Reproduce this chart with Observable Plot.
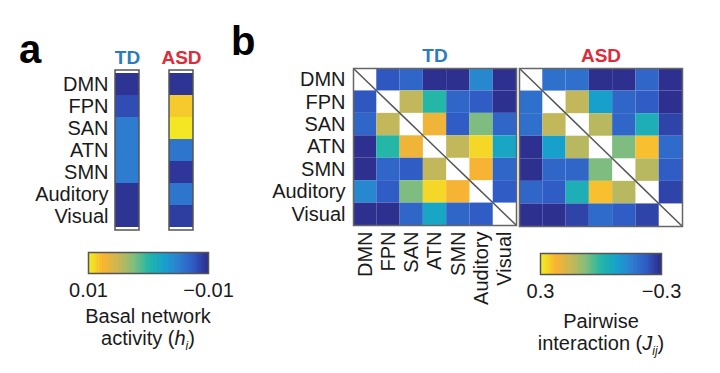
<!DOCTYPE html>
<html><head><meta charset="utf-8">
<script src="https://cdn.jsdelivr.net/npm/d3@7"></script>
<script src="https://cdn.jsdelivr.net/npm/@observablehq/plot@0.6"></script>
<style>
body{margin:0;background:#fff;}
#root{position:relative;width:720px;height:373px;overflow:hidden;font-family:"Liberation Sans",Arial,Helvetica,sans-serif;color:#1a1a1a;}
.abs{position:absolute;}
.panel{font-weight:bold;font-size:40px;line-height:40px;color:#000;}
.ttl{font-size:20px;line-height:22px;text-align:center;white-space:nowrap;}
</style></head><body><div id="root"></div>
<script>
// ---- data ----
const networks = ["DMN", "FPN", "SAN", "ATN", "SMN", "Auditory", "Visual"];
const groups = ["TD", "ASD"];
const tdColor = "#2b7bc0";
const asdColor = "#e02a3a";
// basal network activity h_i
const hTD  = [-0.0095, -0.0082, -0.0052, -0.0052, -0.0052, -0.0095, -0.0095];
const hASD = [-0.0095,  0.0084,  0.0096, -0.0056, -0.0093, -0.0056, -0.0090];
// pairwise interactions J_ij (diagonal empty)
const jTD = [
  [null, -0.23, -0.20, -0.29, -0.29, -0.13, -0.29],
  [-0.23, null,  0.14,  0.00, -0.20, -0.22, -0.29],
  [-0.20,  0.14, null,  0.21, -0.22,  0.07, -0.20],
  [-0.29,  0.00,  0.21, null,  0.14,  0.27, -0.06],
  [-0.29, -0.20, -0.22,  0.14, null,  0.22, -0.20],
  [-0.13, -0.22,  0.07,  0.27,  0.22, null, -0.22],
  [-0.29, -0.29, -0.20, -0.06, -0.20, -0.22, null]
];
const jASD = [
  [null, -0.18, -0.18, -0.29, -0.29, -0.20, -0.29],
  [-0.18, null,  0.14, -0.08, -0.20, -0.22, -0.29],
  [-0.18,  0.14, null,  0.13, -0.20, -0.03, -0.26],
  [-0.29, -0.08,  0.13, null,  0.07,  0.24, -0.19],
  [-0.29, -0.20, -0.20,  0.07, null,  0.13, -0.22],
  [-0.20, -0.22, -0.03,  0.24,  0.13, null, -0.26],
  [-0.29, -0.29, -0.26, -0.19, -0.22, -0.26, null]
];
const hTicks = [0.01, -0.01];
const jTicks = [0.3, -0.3];
const parulaStops = ["#2e2a88", "#2f5ac4", "#2e7fd0", "#16a2cc", "#24b6a6", "#84be7c", "#cbb656", "#f9b332", "#f2f020"];

// ---- helpers ----
const parula = d3.piecewise(d3.interpolateRgb, parulaStops);
const FONT = '"Liberation Sans", Arial, Helvetica, sans-serif';
const root = document.getElementById("root");
function place(node, left, top) {
  const d = document.createElement("div");
  d.className = "abs"; d.style.left = left + "px"; d.style.top = top + "px";
  d.appendChild(node); root.appendChild(d); return d;
}
function html(cls, left, top, inner, width) {
  const d = document.createElement("div");
  d.className = "abs " + cls; d.style.left = left + "px"; d.style.top = top + "px";
  if (width) d.style.width = width + "px";
  d.innerHTML = inner; root.appendChild(d); return d;
}
const baseStyle = {fontFamily: FONT, fontSize: "20px", color: "#1a1a1a", background: "none", overflow: "visible"};

// ---- panel a ----
const hData = networks.flatMap((n, i) => [
  {group: "TD", net: n, v: hTD[i]},
  {group: "ASD", net: n, v: hASD[i]}
]);
const plotA = Plot.plot({
  width: 240, height: 240,
  marginLeft: 115, marginRight: 47, marginTop: 70, marginBottom: 10,
  style: baseStyle,
  x: {domain: groups, paddingInner: 0.556, paddingOuter: 0, axis: null},
  y: {domain: networks, padding: 0, label: null, tickSize: 0, tickPadding: 7},
  color: {type: "linear", domain: [hTicks[1], hTicks[0]], interpolate: parula},
  marks: [
    Plot.cell(hData, {x: "group", y: "net", fill: "v"}),
    Plot.cell(groups, {x: d => d, fill: "none", stroke: "#555", strokeWidth: 1.5}),
    Plot.text(["TD"], {x: d => d, text: d => d, frameAnchor: "top", lineAnchor: "bottom", dy: -7, fill: tdColor, fontWeight: "bold", fontSize: 19}),
    Plot.text(["ASD"], {x: d => d, text: d => d, frameAnchor: "top", lineAnchor: "bottom", dy: -7, fill: asdColor, fontWeight: "bold", fontSize: 19})
  ]
});
place(plotA, 0, 0);

// ---- panel b matrices ----
const n = networks.length;
const centers = d3.range(n).map(i => i + 0.5);
function cellsOf(M) {
  return M.flatMap((row, r) => row.map((v, c) => ({r, c, v}))).filter(d => d.v !== null);
}
function matrix(M, title, color, withAxes) {
  return Plot.plot({
    width: withAxes ? 266 : 180,
    height: withAxes ? 305 : 216,
    marginLeft: withAxes ? 100 : 9, marginRight: withAxes ? 3 : 8,
    marginTop: 48, marginBottom: withAxes ? 100 : 10,
    style: baseStyle,
    x: {domain: [0, n], ticks: centers, tickFormat: t => networks[Math.floor(t)], tickRotate: -90,
        tickSize: 0, tickPadding: 6, label: null, axis: withAxes ? "bottom" : null},
    y: {domain: [0, n], reverse: true, ticks: centers, tickFormat: t => networks[Math.floor(t)],
        tickSize: 0, tickPadding: 8, label: null, axis: withAxes ? "left" : null},
    color: {type: "linear", domain: [jTicks[1], jTicks[0]], interpolate: parula},
    marks: [
      Plot.rect(cellsOf(M), {x1: "c", x2: d => d.c + 1, y1: "r", y2: d => d.r + 1, fill: "v"}),
      Plot.link(networks, {x1: (d, i) => i, y1: (d, i) => i, x2: (d, i) => i + 1, y2: (d, i) => i + 1, stroke: "#555", strokeWidth: 1.5}),
      Plot.frame({stroke: "#666", strokeWidth: 1.5}),
      Plot.text([title], {text: d => d, frameAnchor: "top", lineAnchor: "bottom", dy: -7, fill: color, fontWeight: "bold", fontSize: 19})
    ]
  });
}
place(matrix(jTD, "TD", tdColor, true), 253, 20);
place(matrix(jASD, "ASD", asdColor, false), 510, 20);

// ---- colour bars ----
function colorbar(ticks, width) {
  const N = 80;
  const lo = ticks[1], hi = ticks[0];
  const step = (hi - lo) / N;
  const steps = d3.range(N).map(i => lo + (i + 0.5) * step);
  return Plot.plot({
    width: 200, height: 20 + 21 + 45,
    marginLeft: 40, marginRight: 200 - 40 - width, marginTop: 20, marginBottom: 45,
    style: baseStyle,
    x: {domain: [hi, lo], ticks: ticks, tickFormat: d3.format(".2~f"), tickSize: 0, tickPadding: 9, label: null},
    color: {type: "linear", domain: [lo, hi], interpolate: parula},
    marks: [
      Plot.barX(steps, {x1: d => d - step * 0.8, x2: d => d + step * 0.8, fill: d => d, shapeRendering: "crispEdges"}),
      Plot.frame({stroke: "#555", strokeWidth: 1.5})
    ]
  });
}
place(colorbar(hTicks, 120), 48, 232);
place(colorbar(jTicks, 121), 500, 233);

// ---- titles ----
html("panel", 19, 29, "a");
html("panel", 231, 21, "b");
html("ttl", 48, 305, "Basal network<br>activity (<i>h</i><sub style='font-size:12px'><i>i</i></sub>)", 200);
html("ttl", 501, 310, "Pairwise<br>interaction (<i>J</i><sub style='font-size:12px'><i>ij</i></sub>)", 200);
</script></body></html>
